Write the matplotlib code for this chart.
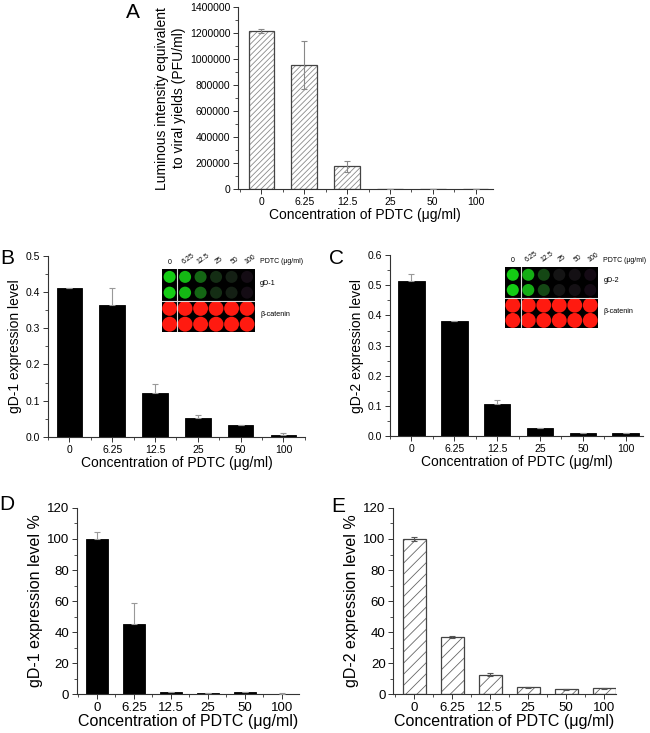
import numpy as np
import matplotlib
matplotlib.use("Agg")
import matplotlib.pyplot as plt
from matplotlib.ticker import MultipleLocator, FormatStrFormatter

plt.rcParams['font.family'] = ['Liberation Sans', 'DejaVu Sans']
plt.rcParams['hatch.linewidth'] = 0.6

### data
conc = ['0', '6.25', '12.5', '25', '50', '100']

yields = [1215000, 955000, 175000, 0, 0, 0]
yields_err = [15000, 185000, 45000, 0, 0, 0]

gd1 = [0.410, 0.365, 0.122, 0.051, 0.033, 0.005]
gd1_err = [0.002, 0.047, 0.025, 0.010, 0.001, 0.006]

gd2 = [0.513, 0.380, 0.107, 0.026, 0.009, 0.011]
gd2_err = [0.023, 0.001, 0.012, 0.001, 0.001, 0.001]

gd1_pct = [100.0, 45.2, 1.1, 0.8, 1.2, 0.3]
gd1_pct_err = [4.5, 13.5, 0.3, 0.2, 0.4, 0.2]

gd2_pct = [100.0, 36.8, 12.5, 4.3, 3.0, 3.9]
gd2_pct_err = [1.0, 0.8, 1.0, 0.5, 0.5, 0.3]

# relative green signal per well column in the blot insets
gd1_spot = [1.0, 0.9, 0.5, 0.22, 0.15, 0.06]
gd2_spot = [1.0, 0.85, 0.35, 0.1, 0.08, 0.05]

x = np.arange(len(conc))

fig = plt.figure(figsize=(6.5, 7.33), dpi=100)


def style(ax, xlim, ylim, ystep, yminor, tfs):
  ax.set_xlim(*xlim)
  ax.set_ylim(*ylim)
  for s in ['top', 'right']:
    ax.spines[s].set_visible(False)
  for s in ['left', 'bottom']:
    ax.spines[s].set_linewidth(0.8)
    ax.spines[s].set_color('#333333')
  ax.set_xticks(x)
  ax.set_xticklabels(conc)
  ax.xaxis.set_minor_locator(MultipleLocator(0.5))
  ax.yaxis.set_major_locator(MultipleLocator(ystep))
  ax.yaxis.set_minor_locator(MultipleLocator(yminor))
  ax.tick_params(which='major', direction='out', length=3.5, width=0.7,
                 labelsize=tfs, pad=2, colors='#333333', labelcolor='black')
  ax.tick_params(which='minor', direction='out', length=2, width=0.6, colors='#333333')


def solid(ax, vals, errs, w):
  ax.errorbar(x, vals, yerr=[np.zeros(len(errs)), errs], fmt='none', ecolor='#999999',
              elinewidth=0.8, capsize=2.5, capthick=0.8, zorder=3)
  ax.bar(x, vals, width=w, color='black', edgecolor='black', linewidth=0.6, zorder=2)


def hatched(ax, vals, errs, w, hatch, hcol, ecol):
  ax.bar(x, vals, width=w, color='white', edgecolor=hcol, hatch=hatch,
         linewidth=0, zorder=2)
  ax.bar(x, vals, width=w, fill=False, edgecolor='#444444', linewidth=0.9, zorder=3)
  ax.errorbar(x, vals, yerr=errs, fmt='none', ecolor=ecol,
              elinewidth=0.8, capsize=2.5, capthick=0.8, zorder=4)


def blot(rect, spots, name):
  ia = fig.add_axes(rect)
  ia.set_facecolor('black')
  ia.set_xlim(0, 6)
  ia.set_ylim(0, 4)
  ia.set_xticks([])
  ia.set_yticks([])
  for s in ia.spines.values():
    s.set_visible(False)
  for row in [2.5, 3.5]:
    ia.scatter(x + 0.5, [row] * 6, s=75, c=[(0.08, 0.8 * v, 0.08) for v in spots],
               edgecolors='none', zorder=2)
  for row in [0.5, 1.5]:
    ia.scatter(x + 0.5, [row] * 6, s=115, c='#ff1a10', edgecolors='none', zorder=2)
  ia.axvline(1, color='#dddddd', lw=0.8, zorder=3)
  ia.axhline(2, color='#dddddd', lw=0.8, zorder=3)
  for i, c in enumerate(conc):
    ia.text(i + 0.5 + (0.2 if i else 0), 4.2, c, fontsize=5, rotation=0 if i == 0 else 35,
            ha='center', va='bottom', clip_on=False)
  ia.text(6.35, 4.45, 'PDTC (μg/ml)', fontsize=5, ha='left', va='center', clip_on=False)
  ia.text(6.35, 3.1, name, fontsize=5.2, ha='left', va='center', clip_on=False)
  ia.text(6.35, 1.1, 'β-catenin', fontsize=5.2, ha='left', va='center', clip_on=False)


xl = 'Concentration of PDTC (μg/ml)'

### A
axA = fig.add_axes([0.366, 0.742, 0.392, 0.248])
hatched(axA, yields, yields_err, 0.6, '//////', '#8a8a8a', '#888888')
style(axA, (-0.55, 5.4), (0, 1400000), 200000, 100000, 7.5)
axA.yaxis.set_major_formatter(FormatStrFormatter('%d'))
axA.set_xlabel(xl, fontsize=10, labelpad=1)
axA.set_ylabel('Luminous intensity equivalent\nto viral yields (PFU/ml)', fontsize=10, labelpad=3)

### B
axB = fig.add_axes([0.074, 0.404, 0.395, 0.247])
solid(axB, gd1, gd1_err, 0.6)
style(axB, (-0.5, 5.5), (0, 0.5), 0.1, 0.05, 7.5)
axB.yaxis.set_major_formatter(FormatStrFormatter('%.1f'))
axB.set_xlabel(xl, fontsize=10, labelpad=1)
axB.set_ylabel('gD-1 expression level', fontsize=10, labelpad=3)
blot([0.249, 0.547, 0.143, 0.086], gd1_spot, 'gD-1')

### C
axC = fig.add_axes([0.600, 0.405, 0.389, 0.247])
solid(axC, gd2, gd2_err, 0.62)
style(axC, (-0.5, 5.4), (0, 0.6), 0.1, 0.05, 7.5)
axC.yaxis.set_major_formatter(FormatStrFormatter('%.1f'))
axC.set_xlabel(xl, fontsize=10, labelpad=1)
axC.set_ylabel('gD-2 expression level', fontsize=10, labelpad=3)
blot([0.777, 0.5525, 0.143, 0.083], gd2_spot, 'gD-2')

### D
axD = fig.add_axes([0.118, 0.053, 0.342, 0.254])
solid(axD, gd1_pct, gd1_pct_err, 0.59)
style(axD, (-0.54, 5.46), (0, 120), 20, 10, 9.5)
axD.set_xlabel(xl, fontsize=11.5, labelpad=0)
axD.set_ylabel('gD-1 expression level %', fontsize=11.5, labelpad=3)

### E
axE = fig.add_axes([0.605, 0.053, 0.342, 0.254])
hatched(axE, gd2_pct, gd2_pct_err, 0.6, '///', '#666666', '#555555')
style(axE, (-0.55, 5.3), (0, 120), 20, 10, 9.5)
axE.set_xlabel(xl, fontsize=11.5, labelpad=0)
axE.set_ylabel('gD-2 expression level %', fontsize=11.5, labelpad=3)

### panel letters
for lab, px, py in [('A', 133, 13), ('B', 7, 258), ('C', 337, 258), ('D', 7, 505), ('E', 338, 506)]:
  fig.text(px / 650, 1 - py / 733, lab, fontsize=15, ha='center', va='center')

fig.savefig('out.png', dpi=100)
